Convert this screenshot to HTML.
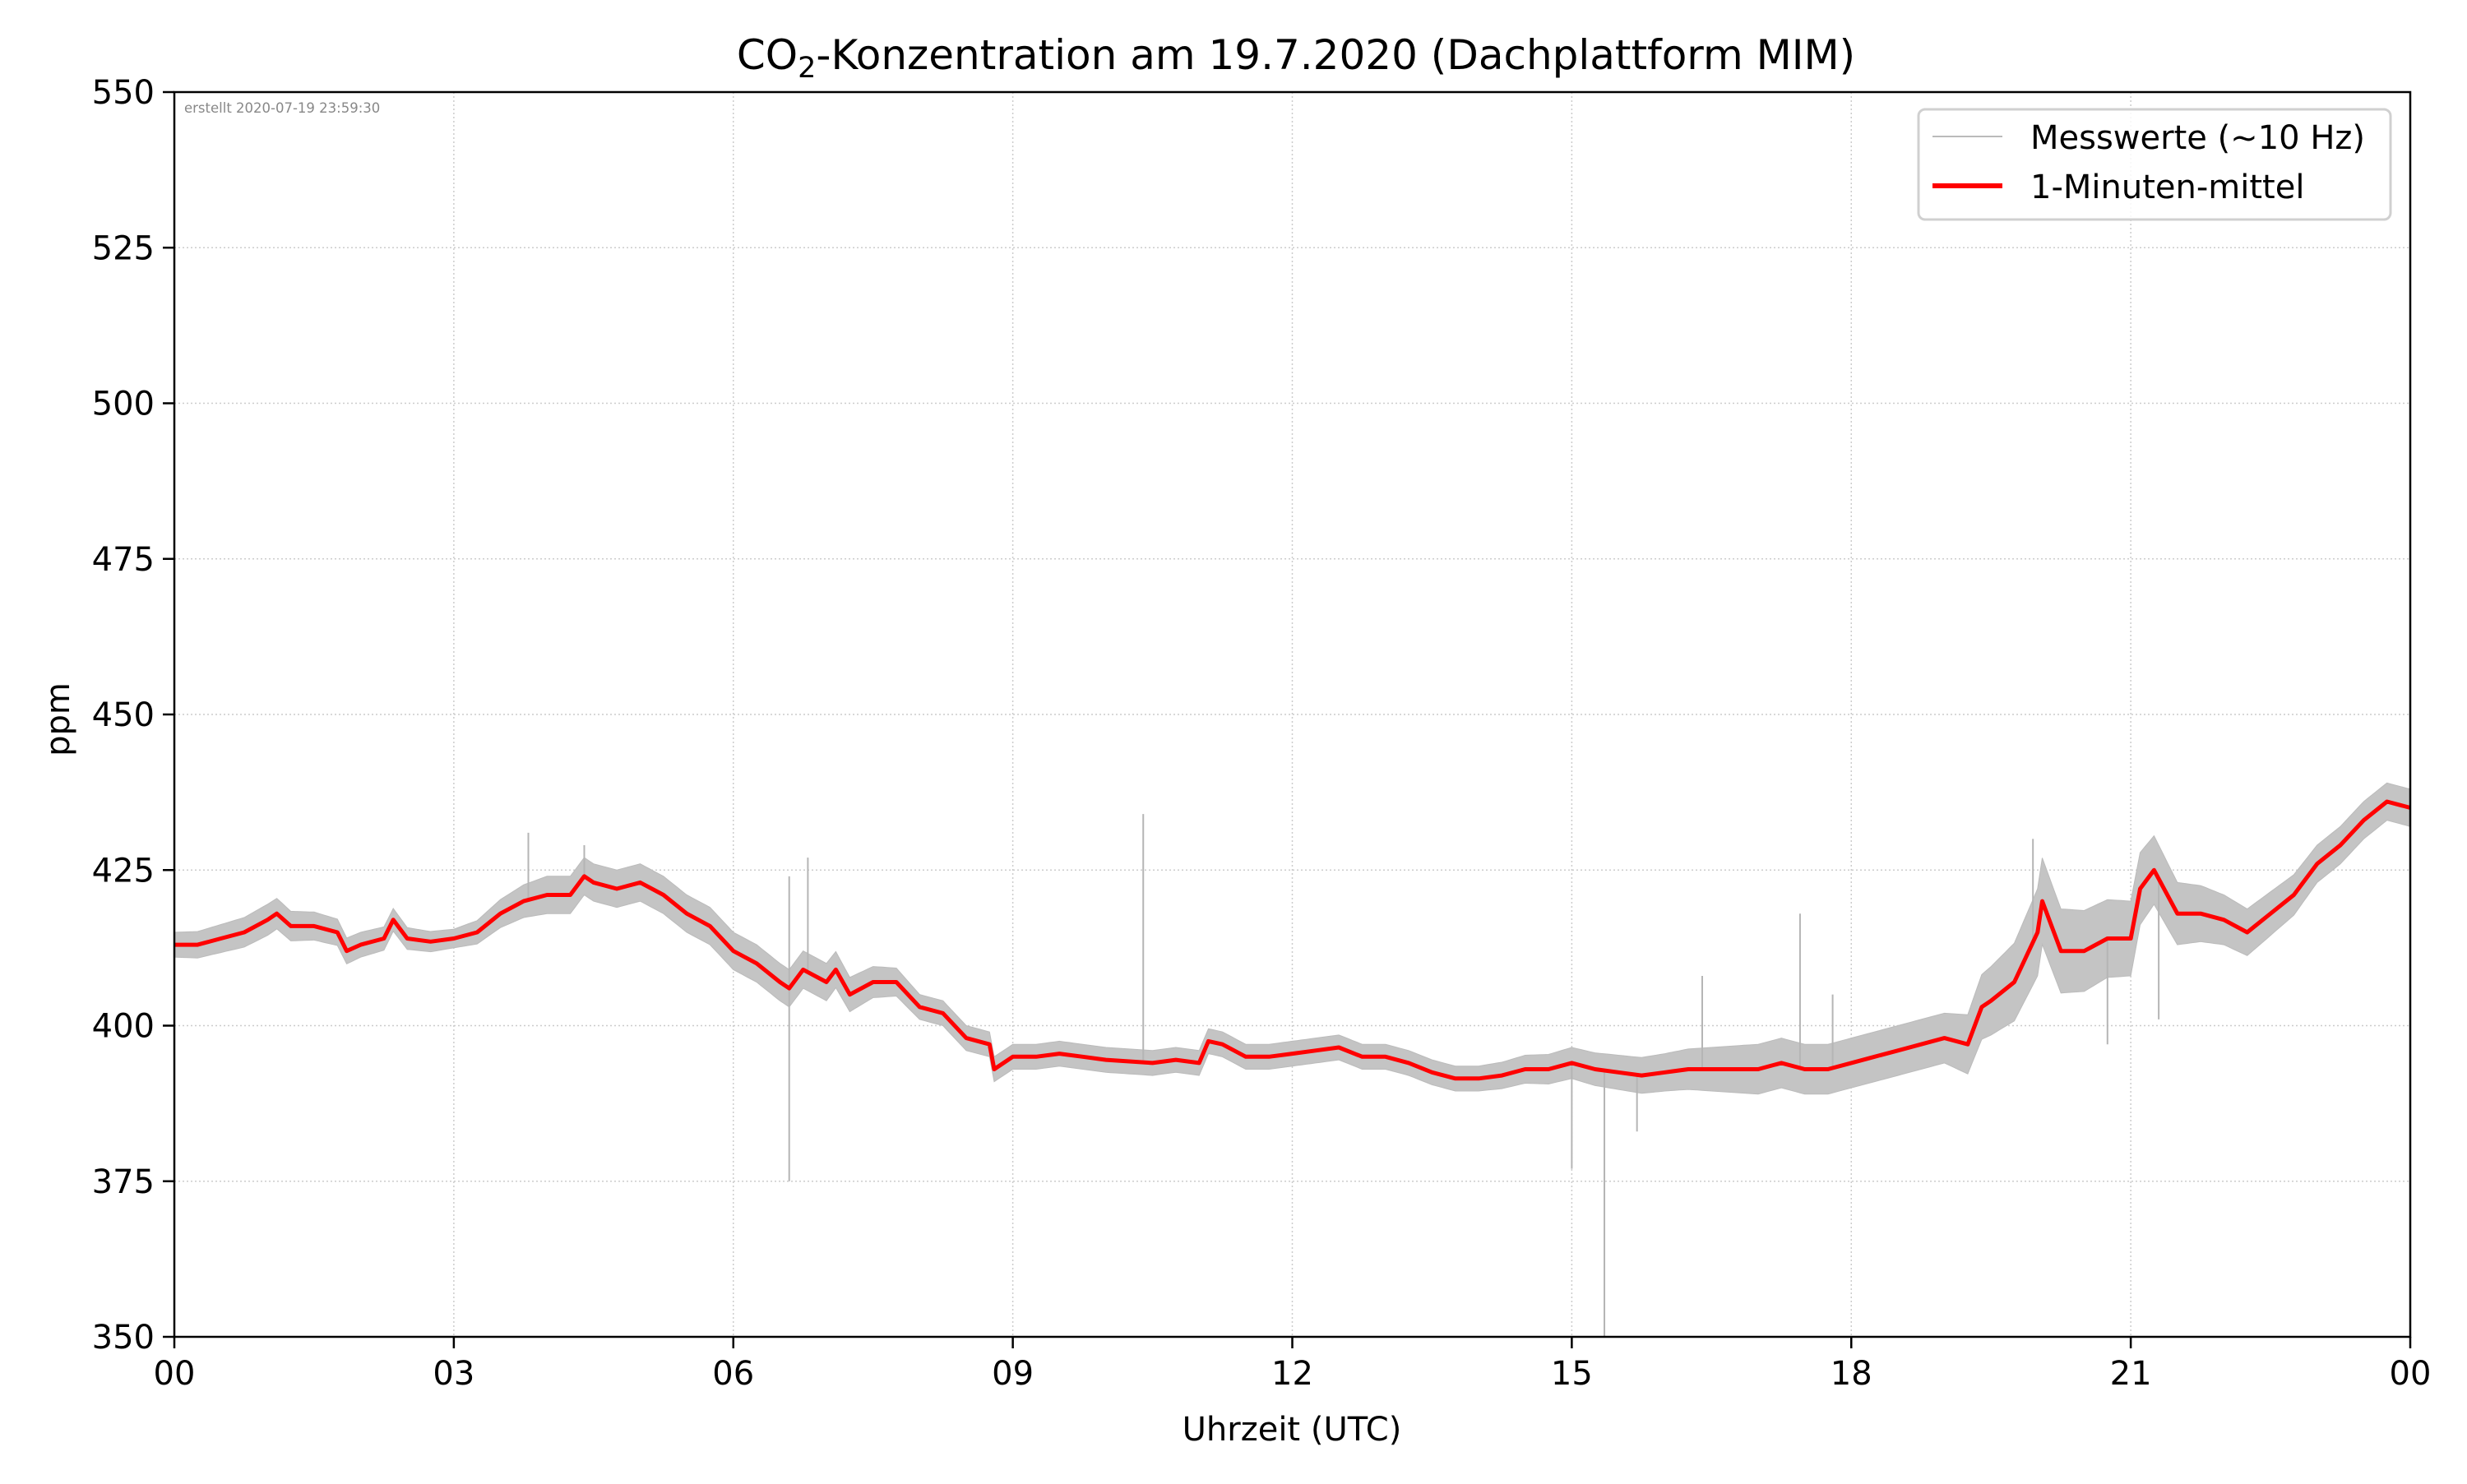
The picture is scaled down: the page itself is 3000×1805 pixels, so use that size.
<!DOCTYPE html>
<html><head><meta charset="utf-8"><style>
body{margin:0;background:#fff}
svg text{font-family:"DejaVu Sans","Liberation Sans",sans-serif}
</style></head><body>
<svg id="chart" width="3000" height="1800" xmlns="http://www.w3.org/2000/svg">
<rect width="3000" height="1800" fill="#fff"/>
<g id="grid"></g>
<g id="gray"></g>
<g id="red"></g>
<rect x="212" y="112" width="2719" height="1514" fill="none" stroke="#000" stroke-width="2.5"/>
<g id="ticks"></g>
<text x="224" y="137" font-size="16.5" fill="#888">erstellt 2020-07-19 23:59:30</text>
<text x="1576" y="84" font-size="50" text-anchor="middle">CO<tspan font-size="35" dy="10">2</tspan><tspan dy="-10">-Konzentration am 19.7.2020 (Dachplattform MIM)</tspan></text>
<text x="1571" y="1752" font-size="40" text-anchor="middle">Uhrzeit (UTC)</text>
<text transform="translate(84,875) rotate(-90)" font-size="40" text-anchor="middle">ppm</text>
<g>
<rect x="2333" y="133" width="574" height="134" rx="8" fill="#fff" fill-opacity="0.85" stroke="#d0d0d0" stroke-width="3"/>
<line x1="2350" y1="166" x2="2435" y2="166" stroke="#bbb" stroke-width="2"/>
<text x="2469" y="181" font-size="40">Messwerte (~10 Hz)</text>
<line x1="2350" y1="226" x2="2435" y2="226" stroke="#f00" stroke-width="6"/>
<text x="2469" y="241" font-size="40">1-Minuten-mittel</text>
</g>
</svg>
<script>
const hours=[0,0.25,0.5,0.75,1.0,1.1,1.25,1.5,1.75,1.85,2.0,2.25,2.35,2.5,2.75,3.0,3.25,3.5,3.75,4.0,4.25,4.4,4.5,4.75,5.0,5.25,5.5,5.75,6.0,6.25,6.5,6.6,6.75,7.0,7.1,7.25,7.5,7.75,8.0,8.25,8.5,8.75,8.8,9.0,9.25,9.5,9.75,10,10.5,10.75,11,11.1,11.25,11.5,11.75,12,12.25,12.5,12.75,13,13.25,13.5,13.75,14,14.25,14.5,14.75,15,15.25,15.5,15.75,16,16.25,16.5,16.75,17,17.25,17.5,17.75,18,18.25,18.5,18.75,19,19.25,19.4,19.5,19.75,20,20.05,20.25,20.5,20.75,21,21.1,21.25,21.5,21.75,22,22.25,22.5,22.75,23,23.25,23.5,23.75,24];
const meanPpm=[413,413,414,415,417,418,416,416,415,412,413,414,417,414,413.5,414,415,418,420,421,421,424,423,422,423,421,418,416,412,410,407,406,409,407,409,405,407,407,403,402,398,397,393,395,395,395.5,395,394.5,394,394.5,394,397.5,397,395,395,395.5,396,396.5,395,395,394,392.5,391.5,391.5,392,393,393,394,393,392.5,392,392.5,393,393,393,393,394,393,393,394,395,396,397,398,397,403,404,407,415,420,412,412,414,414,422,425,418,418,417,415,418,421,426,429,433,436,435];
const bandHours=[0,1,2,3,4,5,6,7,8,9,10,11,12,13,14,15,16,17,18,19,20,21,22,23,24];
const bandHalfWidth=[2,2.5,2,1.5,3,3,3,3,2,2,2,2,2,2,2,2.5,3,4,4,4,7,6,4,3,3];
const spikeHours=[3.8,4.4,6.6,6.6,6.8,10.4,15.0,15.35,15.7,16.4,17.45,17.8,19.95,20.75,21.3];
const spikePpm=[431,429,375,424,427,434,377,350,383,408,418,405,430,397,401];
const yTicks=[350,375,400,425,450,475,500,525,550];
const xTicks=[0,3,6,9,12,15,18,21,24];
const xTickLabels=["00","03","06","09","12","15","18","21","00"];
const NS="http://www.w3.org/2000/svg";
const X0=212,X1=2931,Y0=1626,Y1=112;
const xs=h=>X0+(X1-X0)*h/24;
const ys=v=>Y0-(Y0-Y1)*(v-350)/200;
function mk(tag,attrs,parent){const e=document.createElementNS(NS,tag);for(const k in attrs)e.setAttribute(k,attrs[k]);document.getElementById(parent).appendChild(e);return e;}
function interp(arrX,arrY,h){for(let i=0;i<arrX.length-1;i++){if(h<=arrX[i+1]){const t=(h-arrX[i])/(arrX[i+1]-arrX[i]);return arrY[i]+t*(arrY[i+1]-arrY[i]);}}return arrY[arrY.length-1];}
yTicks.forEach(v=>{
 if(v>350&&v<550){const g=mk('line',{x1:X0,x2:X1,y1:ys(v),y2:ys(v),stroke:'#ccc','stroke-width':1.5,'stroke-dasharray':'2,3'},'grid');
 
 }
 const t=mk('line',{x1:X0-14,x2:X0,y1:ys(v),y2:ys(v),stroke:'#000','stroke-width':2.5},'ticks');
 
 
 const l=mk('text',{x:X0-24,y:ys(v)+14,'font-size':40,'text-anchor':'end'},'ticks');l.textContent=v;
 
 
});
xTicks.forEach((h,i)=>{
 if(h>0&&h<24){const g=mk('line',{x1:xs(h),x2:xs(h),y1:Y1,y2:Y0,stroke:'#ccc','stroke-width':1.5,'stroke-dasharray':'2,3'},'grid');
 
 }
 const t=mk('line',{x1:xs(h),x2:xs(h),y1:Y0,y2:Y0+14,stroke:'#000','stroke-width':2.5},'ticks');
 
 
 const l=mk('text',{x:xs(h),y:Y0+58,'font-size':40,'text-anchor':'middle'},'ticks');l.textContent=xTickLabels[i];
 
 
});
let up=[],lo=[];
for(let h=0;h<=24.0001;h+=0.05){const m=interp(hours,meanPpm,h),w=interp(bandHours,bandHalfWidth,h);
 up.push(xs(h).toFixed(1)+','+ys(m+w).toFixed(1));lo.unshift(xs(h).toFixed(1)+','+ys(m-w).toFixed(1));}
const band=mk('polygon',{points:up.concat(lo).join(' '),fill:'#c4c4c4',stroke:'#bbb','stroke-width':1},'gray');


spikeHours.forEach((h,i)=>{
 const s=mk('line',{x1:xs(h),x2:xs(h),y1:ys(interp(hours,meanPpm,h)),y2:ys(spikePpm[i]),stroke:'#b5b5b5','stroke-width':2},'gray');
 
 
});
const pts=hours.map((h,i)=>xs(h).toFixed(1)+','+ys(meanPpm[i]).toFixed(1)).join(' ');
const red=mk('polyline',{points:pts,fill:'none',stroke:'#f00','stroke-width':5,'stroke-linejoin':'round'},'red');


</script>
</body></html>
